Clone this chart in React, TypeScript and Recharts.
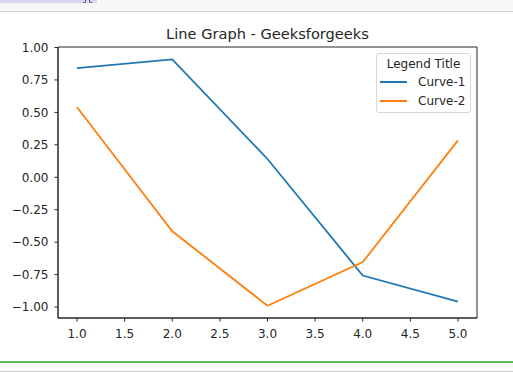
import * as React from "react";
import { LineChart, Line, XAxis, YAxis, ReferenceArea } from "recharts";

const xValues = [1, 2, 3, 4, 5];
const curve1 = [0.841, 0.909, 0.141, -0.757, -0.959];
const curve2 = [0.54, -0.416, -0.99, -0.654, 0.284];
const xTicks = [1, 1.5, 2, 2.5, 3, 3.5, 4, 4.5, 5];
const yTicks = [-1, -0.75, -0.5, -0.25, 0, 0.25, 0.5, 0.75, 1];

const series = [
  { key: "c1", name: "Curve-1", color: "#1f77b4" },
  { key: "c2", name: "Curve-2", color: "#ff7f0e" },
];

const data = xValues.map((x, i) => ({ x, c1: curve1[i], c2: curve2[i] }));

const X_DOMAIN: [number, number] = [0.8, 5.2];
const Y_DOMAIN: [number, number] = [-1.0845, 1.004];
const FONT = "'DejaVu Sans', sans-serif";
const INK = "#262626";

const fmtY = (v: number) => (v < 0 ? "\u2212" : "") + Math.abs(v).toFixed(2);

export default function App() {
  return (
    <div
      style={{
        position: "absolute",
        left: 0,
        top: 0,
        width: 513,
        height: 372,
        background: "#fff",
        fontFamily: FONT,
        overflow: "hidden",
      }}
    >
      {/* notebook chrome */}
      <div style={{ position: "absolute", left: 0, top: 0, width: 513, height: 11, background: "#f7f7f7", borderBottom: "1px solid #cfcfcf" }} />
      <div style={{ position: "absolute", left: 0, top: 0, width: 97, height: 3, background: "#d6d6f2" }}>
        <div style={{ position: "absolute", left: 83, top: 0, width: 2, height: 2, borderBottom: "1px solid #555", borderRight: "1px solid #555", borderBottomRightRadius: 2 }} />
        <div style={{ position: "absolute", left: 89, top: 0, width: 2, height: 2, borderBottom: "1px solid #555", borderLeft: "1px solid #555", borderBottomLeftRadius: 2 }} />
      </div>
      <div style={{ position: "absolute", left: 0, top: 361, width: 513, height: 2, background: "#5cb85c" }} />
      <div style={{ position: "absolute", left: 0, top: 371, width: 513, height: 1, background: "#cfcfcf" }} />

      <div
        style={{
          position: "absolute",
          left: 58,
          width: 419,
          top: 25,
          textAlign: "center",
          fontSize: 14.6,
          color: INK,
          lineHeight: "18px",
        }}
      >
        Line Graph - Geeksforgeeks
      </div>

      <div style={{ position: "absolute", left: 0, top: 0 }}>
        <LineChart width={513} height={372} data={data} margin={{ top: 47, right: 36, bottom: 24, left: 0 }}>
          <XAxis
            dataKey="x"
            type="number"
            domain={X_DOMAIN}
            ticks={xTicks}
            tickFormatter={(v: number) => v.toFixed(1)}
            allowDataOverflow
            height={30}
            tickSize={3.5}
            tickMargin={8}
            axisLine={{ stroke: INK, strokeWidth: 1 }}
            tickLine={{ stroke: INK, strokeWidth: 1 }}
            tick={{ fontSize: 12, fill: INK, fontFamily: FONT }}
          />
          <YAxis
            type="number"
            domain={Y_DOMAIN}
            ticks={yTicks}
            tickFormatter={fmtY}
            allowDataOverflow
            width={58}
            tickSize={3.5}
            tickMargin={6}
            axisLine={{ stroke: INK, strokeWidth: 1 }}
            tickLine={{ stroke: INK, strokeWidth: 1 }}
            tick={{ fontSize: 12, fill: INK, fontFamily: FONT }}
          />
          <ReferenceArea
            x1={X_DOMAIN[0]}
            x2={X_DOMAIN[1]}
            y1={Y_DOMAIN[0]}
            y2={Y_DOMAIN[1]}
            fill="none"
            stroke={INK}
            strokeWidth={1}
            ifOverflow="visible"
          />
          {series.map((s) => (
            <Line
              key={s.key}
              type="linear"
              dataKey={s.key}
              name={s.name}
              stroke={s.color}
              strokeWidth={1.8}
              dot={false}
              isAnimationActive={false}
            />
          ))}
        </LineChart>
      </div>

      <div
        style={{
          position: "absolute",
          left: 376,
          top: 53,
          width: 93,
          height: 58,
          border: "1px solid #d6d6d6",
          borderRadius: 3,
          background: "rgba(255,255,255,0.8)",
          fontSize: 12,
          color: INK,
          boxSizing: "content-box",
        }}
      >
        <div style={{ position: "absolute", left: 0, width: 93, top: 3, textAlign: "center", lineHeight: "14px" }}>
          Legend Title
        </div>
        {series.map((s, i) => (
          <div key={s.key} style={{ position: "absolute", left: 3, top: 21 + i * 19, height: 14, display: "flex", alignItems: "center" }}>
            <div style={{ width: 27, height: 1.8, background: s.color }} />
            <span style={{ marginLeft: 11, lineHeight: "14px" }}>{s.name}</span>
          </div>
        ))}
      </div>
    </div>
  );
}
